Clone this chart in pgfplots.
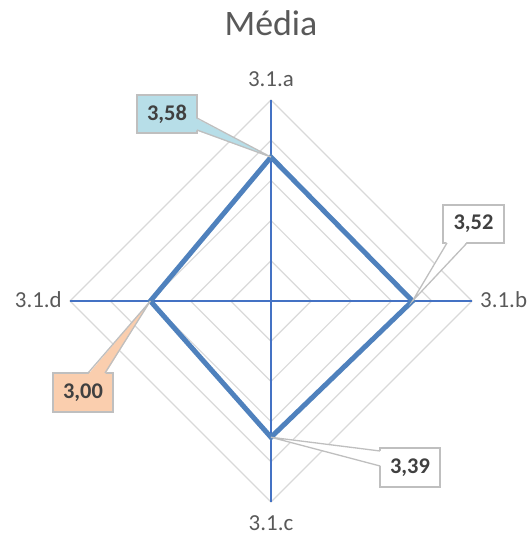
\documentclass[border=0pt]{standalone}
\usepackage{pgfplots}
\pgfplotsset{compat=1.18}
\usepackage{fontspec}
\setmainfont{Carlito}
\definecolor{serie}{RGB}{79,129,189}
\definecolor{spokec}{RGB}{68,114,196}
\definecolor{gridc}{RGB}{217,217,217}
\definecolor{lblc}{RGB}{89,89,89}
\definecolor{dlc}{RGB}{64,64,64}
\definecolor{brd}{RGB}{191,191,191}
\definecolor{cblue}{RGB}{183,222,232}
\definecolor{cpeach}{RGB}{250,206,174}
\begin{document}
\begin{tikzpicture}
\begin{axis}[
  width=530bp,height=537bp,scale only axis,
  xmin=-6.741,xmax=6.443,ymin=-5.871,ymax=7.488,
  hide axis, clip=false]
\draw[draw=none] (rel axis cs:0,0) rectangle (rel axis cs:1,1);
% grid rings
\addplot[gridc, line width=1.2pt, mark=none] coordinates {(0,1) (1,0) (0,-1) (-1,0)} -- cycle;
\addplot[gridc, line width=1.2pt, mark=none] coordinates {(0,2) (2,0) (0,-2) (-2,0)} -- cycle;
\addplot[gridc, line width=1.2pt, mark=none] coordinates {(0,3) (3,0) (0,-3) (-3,0)} -- cycle;
\addplot[gridc, line width=1.2pt, mark=none] coordinates {(0,4) (4,0) (0,-4) (-4,0)} -- cycle;
\addplot[gridc, line width=1.2pt, mark=none] coordinates {(0,5) (5,0) (0,-5) (-5,0)} -- cycle;
% spokes
\addplot[draw=spokec, line width=1.4pt, mark=none] coordinates {(0,-5) (0,5)};
\addplot[draw=spokec, line width=1.4pt, mark=none] coordinates {(-5,0) (5,0)};
% data
\addplot[draw=serie, line width=5pt, mark=none, line join=miter] coordinates {(0,3.58) (3.52,0) (0,-3.39) (-3.00,0)} -- cycle;
% axis labels
\node[font=\fontsize{36}{40}\selectfont, text=lblc, anchor=base] at (axis cs:0,6.617) {Média};
\node[font=\fontsize{23}{26}\selectfont, text=lblc, anchor=base] at (axis cs:0,5.348) {3.1.a};
\node[font=\fontsize{23}{26}\selectfont, text=lblc, anchor=base west, inner sep=0pt] at (axis cs:5.2,-0.174) {3.1.b};
\node[font=\fontsize{23}{26}\selectfont, text=lblc, anchor=base, inner sep=0pt] at (axis cs:0,-5.72) {3.1.c};
\node[font=\fontsize{23}{26}\selectfont, text=lblc, anchor=base east, inner sep=0pt] at (axis cs:-5.2,-0.174) {3.1.d};
% callout 3,58
\filldraw[fill=cblue, draw=brd, line width=1.3pt] (axis cs:-3.333,5.124) rectangle (axis cs:-1.841,4.179);
\fill[cblue] (axis cs:-1.88,4.552) -- (axis cs:0,3.58) -- (axis cs:-1.88,4.254) -- cycle;
\draw[brd, line width=1.3pt] (axis cs:-1.841,4.552) -- (axis cs:0,3.58) -- (axis cs:-1.841,4.254);
\node[font=\fontsize{22.5}{24}\selectfont\bfseries, text=dlc] at (axis cs:-2.587,4.651) {3,58};
% callout 3,52
\filldraw[fill=white, draw=brd, line width=1.3pt] (axis cs:4.279,2.388) rectangle (axis cs:5.796,1.443);
\fill[white] (axis cs:4.378,1.48) -- (axis cs:3.52,0) -- (axis cs:4.876,1.48) -- cycle;
\draw[brd, line width=1.3pt] (axis cs:4.378,1.443) -- (axis cs:3.52,0) -- (axis cs:4.876,1.443);
\node[font=\fontsize{22.5}{24}\selectfont\bfseries, text=dlc] at (axis cs:5.037,1.915) {3,52};
% callout 3,00
\filldraw[fill=cpeach, draw=brd, line width=1.3pt] (axis cs:-5.423,-1.791) rectangle (axis cs:-3.930,-2.761);
\fill[cpeach] (axis cs:-4.552,-1.83) -- (axis cs:-3,0) -- (axis cs:-4.129,-1.83) -- cycle;
\draw[brd, line width=1.3pt] (axis cs:-4.552,-1.791) -- (axis cs:-3,0) -- (axis cs:-4.129,-1.791);
\node[font=\fontsize{22.5}{24}\selectfont\bfseries, text=dlc] at (axis cs:-4.676,-2.276) {3,00};
% callout 3,39
\filldraw[fill=white, draw=brd, line width=1.3pt] (axis cs:2.711,-3.657) rectangle (axis cs:4.204,-4.627);
\fill[white] (axis cs:2.75,-3.731) -- (axis cs:0,-3.39) -- (axis cs:2.75,-4.104) -- cycle;
\draw[brd, line width=1.3pt] (axis cs:2.711,-3.731) -- (axis cs:0,-3.39) -- (axis cs:2.711,-4.104);
\node[font=\fontsize{22.5}{24}\selectfont\bfseries, text=dlc] at (axis cs:3.457,-4.142) {3,39};
\end{axis}
\end{tikzpicture}
\end{document}
